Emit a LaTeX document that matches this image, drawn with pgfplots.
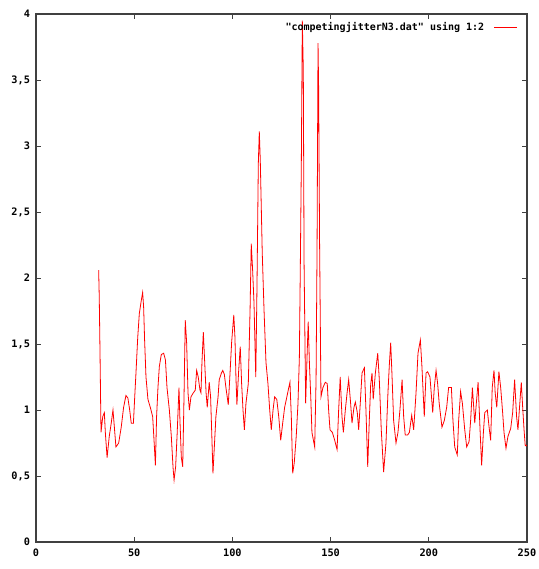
\documentclass[border=0pt]{standalone}
\usepackage{fontspec}
\setmainfont{DejaVu Sans Mono}
\newfontfamily\gpfont{DejaVu Sans Mono}
\usepackage{pgfplots}
\pgfplotsset{compat=1.18}

\pgfplotstableread{
x y
31.9 2.06
32.2 1.86
32.6 1.43
33.1 0.83
34.0 0.95
34.8 0.98
35.3 0.83
36.2 0.64
37.3 0.80
38.3 0.90
39.2 1.00
39.9 0.87
40.7 0.72
42.1 0.75
43.4 0.87
44.6 1.02
45.8 1.11
46.8 1.09
47.7 1.00
48.5 0.90
49.6 0.90
50.2 1.08
50.9 1.28
51.8 1.55
52.6 1.73
53.5 1.82
54.3 1.89
54.8 1.78
55.3 1.53
56.0 1.25
57.0 1.08
58.2 1.02
59.4 0.95
60.1 0.77
60.8 0.58
61.4 0.95
62.1 1.17
62.8 1.33
63.8 1.42
65.0 1.43
65.9 1.38
66.7 1.17
67.9 1.00
68.9 0.80
69.8 0.56
70.3 0.47
71.1 0.57
71.9 0.83
72.8 1.17
73.3 0.92
74.0 0.64
74.7 0.57
75.4 1.13
76.0 1.68
76.7 1.51
77.4 1.13
78.1 1.00
78.9 1.10
80.1 1.13
81.1 1.15
81.8 1.30
82.6 1.25
83.5 1.15
84.0 1.13
84.5 1.36
85.2 1.59
85.9 1.36
86.6 1.13
87.2 1.02
88.2 1.21
88.9 1.10
89.6 0.77
90.1 0.52
90.8 0.72
91.6 0.95
92.7 1.10
93.3 1.23
94.4 1.28
95.1 1.30
95.9 1.27
96.7 1.17
97.9 1.04
98.8 1.28
99.6 1.51
100.7 1.72
101.3 1.55
101.8 1.25
102.3 1.04
103.2 1.30
104.0 1.48
104.7 1.20
105.4 1.00
106.1 0.85
106.9 1.05
108.1 1.20
109.0 1.76
109.6 2.26
110.3 2.06
111.0 1.81
111.9 1.25
112.5 1.91
113.2 2.87
113.7 3.11
114.2 2.89
114.7 2.54
115.2 2.19
116.1 1.76
117.1 1.36
118.1 1.20
119.0 1.00
119.8 0.85
120.7 1.00
121.5 1.10
122.6 1.08
123.6 0.95
124.6 0.77
125.6 0.90
126.6 1.02
127.6 1.09
128.7 1.17
129.3 1.21
130.0 0.95
130.7 0.52
131.5 0.60
132.5 0.80
133.4 1.05
134.1 1.40
134.6 2.11
135.1 2.87
135.6 3.95
136.1 3.58
136.5 2.11
137.3 1.05
138.0 1.40
138.6 1.67
139.2 1.36
139.9 1.10
140.5 0.83
141.9 0.72
142.6 1.23
143.1 2.21
143.6 3.78
143.9 3.45
144.4 2.26
145.1 1.10
146.1 1.17
147.3 1.21
148.3 1.20
149.0 1.00
149.7 0.85
150.9 0.83
152.1 0.77
153.3 0.70
154.1 1.00
154.9 1.25
155.8 0.95
156.5 0.83
157.5 1.00
158.4 1.13
159.2 1.23
160.2 1.05
160.9 0.90
161.9 1.02
162.6 1.06
163.6 0.98
164.3 0.85
165.3 1.10
166.0 1.28
167.2 1.32
168.0 1.00
168.9 0.57
169.7 0.92
170.4 1.19
171.1 1.28
171.7 1.08
172.8 1.28
174.0 1.43
174.8 1.23
175.8 0.85
177.0 0.53
178.2 0.75
179.2 1.13
179.9 1.34
180.6 1.51
181.3 1.25
182.1 0.92
183.3 0.75
184.3 0.83
185.3 1.00
186.4 1.23
187.2 0.95
188.0 0.81
189.2 0.81
190.1 0.83
191.3 0.96
192.3 0.85
193.5 1.13
194.5 1.43
195.7 1.53
196.5 1.33
197.7 0.95
198.6 1.28
199.4 1.29
200.6 1.25
202.0 0.98
202.8 1.17
203.7 1.30
204.5 1.20
205.3 1.05
206.7 0.87
207.9 0.92
209.1 1.02
210.1 1.17
211.5 1.17
212.3 0.92
213.2 0.72
214.5 0.66
215.2 0.92
216.2 1.14
217.1 1.05
218.3 0.85
219.3 0.72
220.5 0.76
221.3 0.92
222.2 1.17
223.4 0.90
224.2 1.05
225.1 1.21
226.1 0.85
226.9 0.58
227.8 0.83
228.5 0.98
229.8 1.00
230.7 0.87
231.5 0.77
232.3 1.17
233.2 1.30
233.8 1.13
234.6 1.02
235.7 1.29
236.6 1.17
237.6 0.98
238.3 0.83
239.3 0.71
240.3 0.80
241.7 0.86
242.7 0.98
243.7 1.23
244.7 0.95
245.4 0.85
246.1 1.00
247.1 1.21
247.8 1.02
248.5 0.85
249.1 0.73
250.0 0.73
}\jitter

\begin{document}
\begin{tikzpicture}
\path[use as bounding box] (-27pt,-20.25pt) rectangle (377.25pt,406.5pt);
\begin{axis}[
  at={(0,0)}, anchor=south west,
  scale only axis, width=368.25pt, height=396pt,
  xmin=0, xmax=250, ymin=0, ymax=4,
  xtick={0,50,...,250},
  ytick={0,0.5,...,4},
  tick align=inside,
  major tick length=4pt,
  axis line style={black!75, line width=0.9pt},
  tick style={black!75, line width=0.7pt},
  tick label style={font=\gpfont\bfseries\fontsize{7.7}{8}\selectfont},
  /pgf/number format/use comma,
  /pgf/number format/assume math mode=true,
  yticklabel style={xshift=-1pt},
  xticklabel style={yshift=-2pt},
  legend style={draw=none, fill=none, at={(0.981,0.99)}, anchor=north east,
    font=\gpfont\bfseries\fontsize{7.5}{8}\selectfont, inner sep=0pt,
    cells={anchor=east},
    /tikz/every odd column/.append style={column sep=5pt}},
  legend plot pos=right,
  legend image post style={line width=0.8pt},
]
\addplot[red, line width=0.6pt] table[x=x, y=y] {\jitter};
\addlegendentry{"competingjitterN3.dat" using 1:2}
\end{axis}
\end{tikzpicture}
\end{document}
